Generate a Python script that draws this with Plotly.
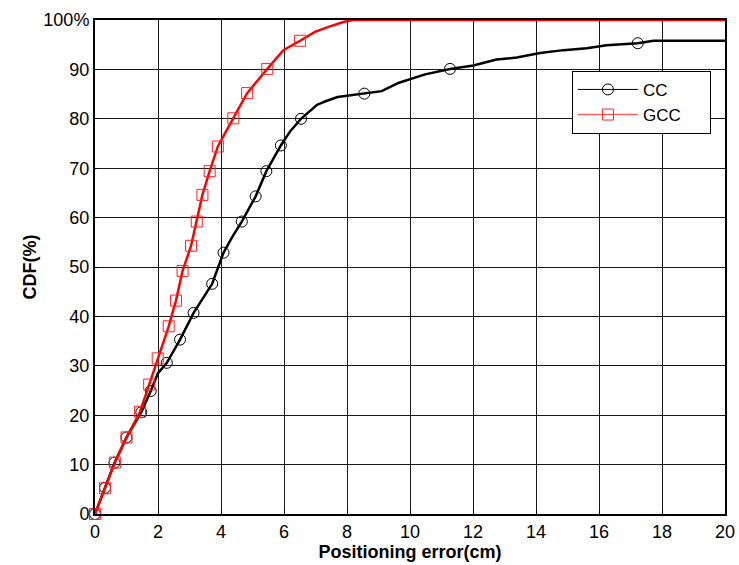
import plotly.graph_objects as go

# CC curve
cc_x = [0, 0.32, 0.62, 1.0, 1.47, 1.77, 2.0, 2.28, 2.70, 3.13, 3.4, 3.72, 4.08, 4.35, 4.66,
        5.1, 5.44, 5.9, 6.2, 6.54, 7.04, 7.3, 7.7, 8.55, 9.1, 9.65, 10.48, 11.27, 12.01,
        12.75, 13.39, 14.13, 14.87, 15.61, 16.24, 17.23, 17.73, 20]
cc_y = [0, 5.3, 10.4, 15.5, 20.6, 24.9, 28.5, 30.6, 35.3, 40.7, 43.5, 46.6, 52.9, 56.0, 59.2,
        64.3, 69.4, 74.6, 77.5, 80.0, 82.8, 83.5, 84.4, 85.1, 85.6, 87.3, 89.0, 90.1, 90.8,
        92.0, 92.4, 93.3, 93.9, 94.3, 94.9, 95.3, 95.8, 95.8]
cc_mx = [0, 0.32, 0.62, 1.0, 1.47, 1.77, 2.28, 2.70, 3.13, 3.72, 4.08, 4.66, 5.1, 5.44, 5.9,
         6.54, 8.55, 11.27, 17.23]
cc_my = [0, 5.3, 10.4, 15.5, 20.6, 24.9, 30.6, 35.3, 40.7, 46.6, 52.9, 59.2, 64.3, 69.4, 74.6,
         80.0, 85.1, 90.1, 95.3]

# GCC curve
gcc_x = [0, 0.32, 0.63, 1.0, 1.43, 1.72, 1.99, 2.34, 2.57, 2.78, 3.05, 3.23, 3.41, 3.64, 3.9,
         4.13, 4.39, 4.83, 5.47, 5.98, 6.51, 6.98, 7.41, 7.94, 8.2, 20]
gcc_y = [0, 5.2, 10.4, 15.5, 20.7, 26.2, 31.5, 38.0, 43.2, 49.2, 54.3, 59.2, 64.6, 69.4, 74.4,
         77.1, 80.1, 85.2, 90.1, 93.9, 95.8, 97.6, 98.6, 99.7, 100, 100]
gcc_mx = [0, 0.32, 0.63, 1.0, 1.43, 1.72, 1.99, 2.34, 2.57, 2.78, 3.05, 3.23, 3.41, 3.64, 3.9,
          4.39, 4.83, 5.47, 6.51]
gcc_my = [0, 5.2, 10.4, 15.5, 20.7, 26.2, 31.5, 38.0, 43.2, 49.2, 54.3, 59.2, 64.6, 69.4, 74.4,
          80.1, 85.2, 90.1, 95.8]

x_ticks = list(range(0, 21, 2))
y_ticks = list(range(0, 101, 10))
y_labels = [str(v) for v in y_ticks[:-1]] + ["100%"]
series_names = ["CC", "GCC"]

FONT = "Liberation Sans, Arial, sans-serif"
PAD = "\u00a0" * 5

fig = go.Figure()
fig.add_trace(go.Scatter(x=cc_x, y=cc_y, mode="lines", line=dict(color="black", width=2.5),
                         showlegend=False))
fig.add_trace(go.Scatter(x=cc_mx, y=cc_my, mode="markers", cliponaxis=False,
                         marker=dict(symbol="circle-open", size=11, color="black",
                                     line=dict(width=1, color="black")),
                         showlegend=False))
fig.add_trace(go.Scatter(x=gcc_x, y=gcc_y, mode="lines", line=dict(color="#ff0000", width=2.5),
                         showlegend=False))
fig.add_trace(go.Scatter(x=gcc_mx, y=gcc_my, mode="markers", cliponaxis=False,
                         marker=dict(symbol="square-open", size=11, color="#ff2020",
                                     line=dict(width=1, color="#ff2020")),
                         showlegend=False))
# legend entries
fig.add_trace(go.Scatter(x=[None], y=[None], mode="lines+markers", name=series_names[0] + PAD,
                         line=dict(color="black", width=1),
                         marker=dict(symbol="circle-open", size=11, color="black",
                                     line=dict(width=1, color="black"))))
fig.add_trace(go.Scatter(x=[None], y=[None], mode="lines+markers", name=series_names[1] + PAD,
                         line=dict(color="#ff6060", width=1.5),
                         marker=dict(symbol="square-open", size=11, color="#ff2020",
                                     line=dict(width=1, color="#ff2020"))))

axis_common = dict(showgrid=True, gridcolor="#1a1a1a", gridwidth=1, zeroline=False,
                   showline=True, linecolor="black", linewidth=2, mirror=True,
                   ticks="inside", ticklen=4, tickcolor="black", automargin=False,
                   tickfont=dict(family=FONT, size=18, color="black"))

fig.update_layout(
    width=739, height=565,
    margin=dict(l=95, r=14, t=20, b=51),
    paper_bgcolor="white", plot_bgcolor="white",
    font=dict(family=FONT, color="black"),
    xaxis=dict(range=[0, 20], tickvals=x_ticks, ticktext=[str(v) for v in x_ticks],
               title=dict(text="<b>Positioning error(cm)</b>", font=dict(family=FONT, size=18),
                          standoff=4),
               **axis_common),
    yaxis=dict(range=[0, 100], tickvals=y_ticks, ticktext=y_labels,
               title=dict(text="<b>CDF(%)</b>", font=dict(family=FONT, size=18), standoff=2),
               **axis_common),
    legend=dict(x=0.757, y=0.897, xanchor="left", yanchor="top",
                bgcolor="white", bordercolor="black", borderwidth=1,
                font=dict(family=FONT, size=17, color="black"),
                itemwidth=60, tracegroupgap=0),
)

fig.write_html("out.html")
